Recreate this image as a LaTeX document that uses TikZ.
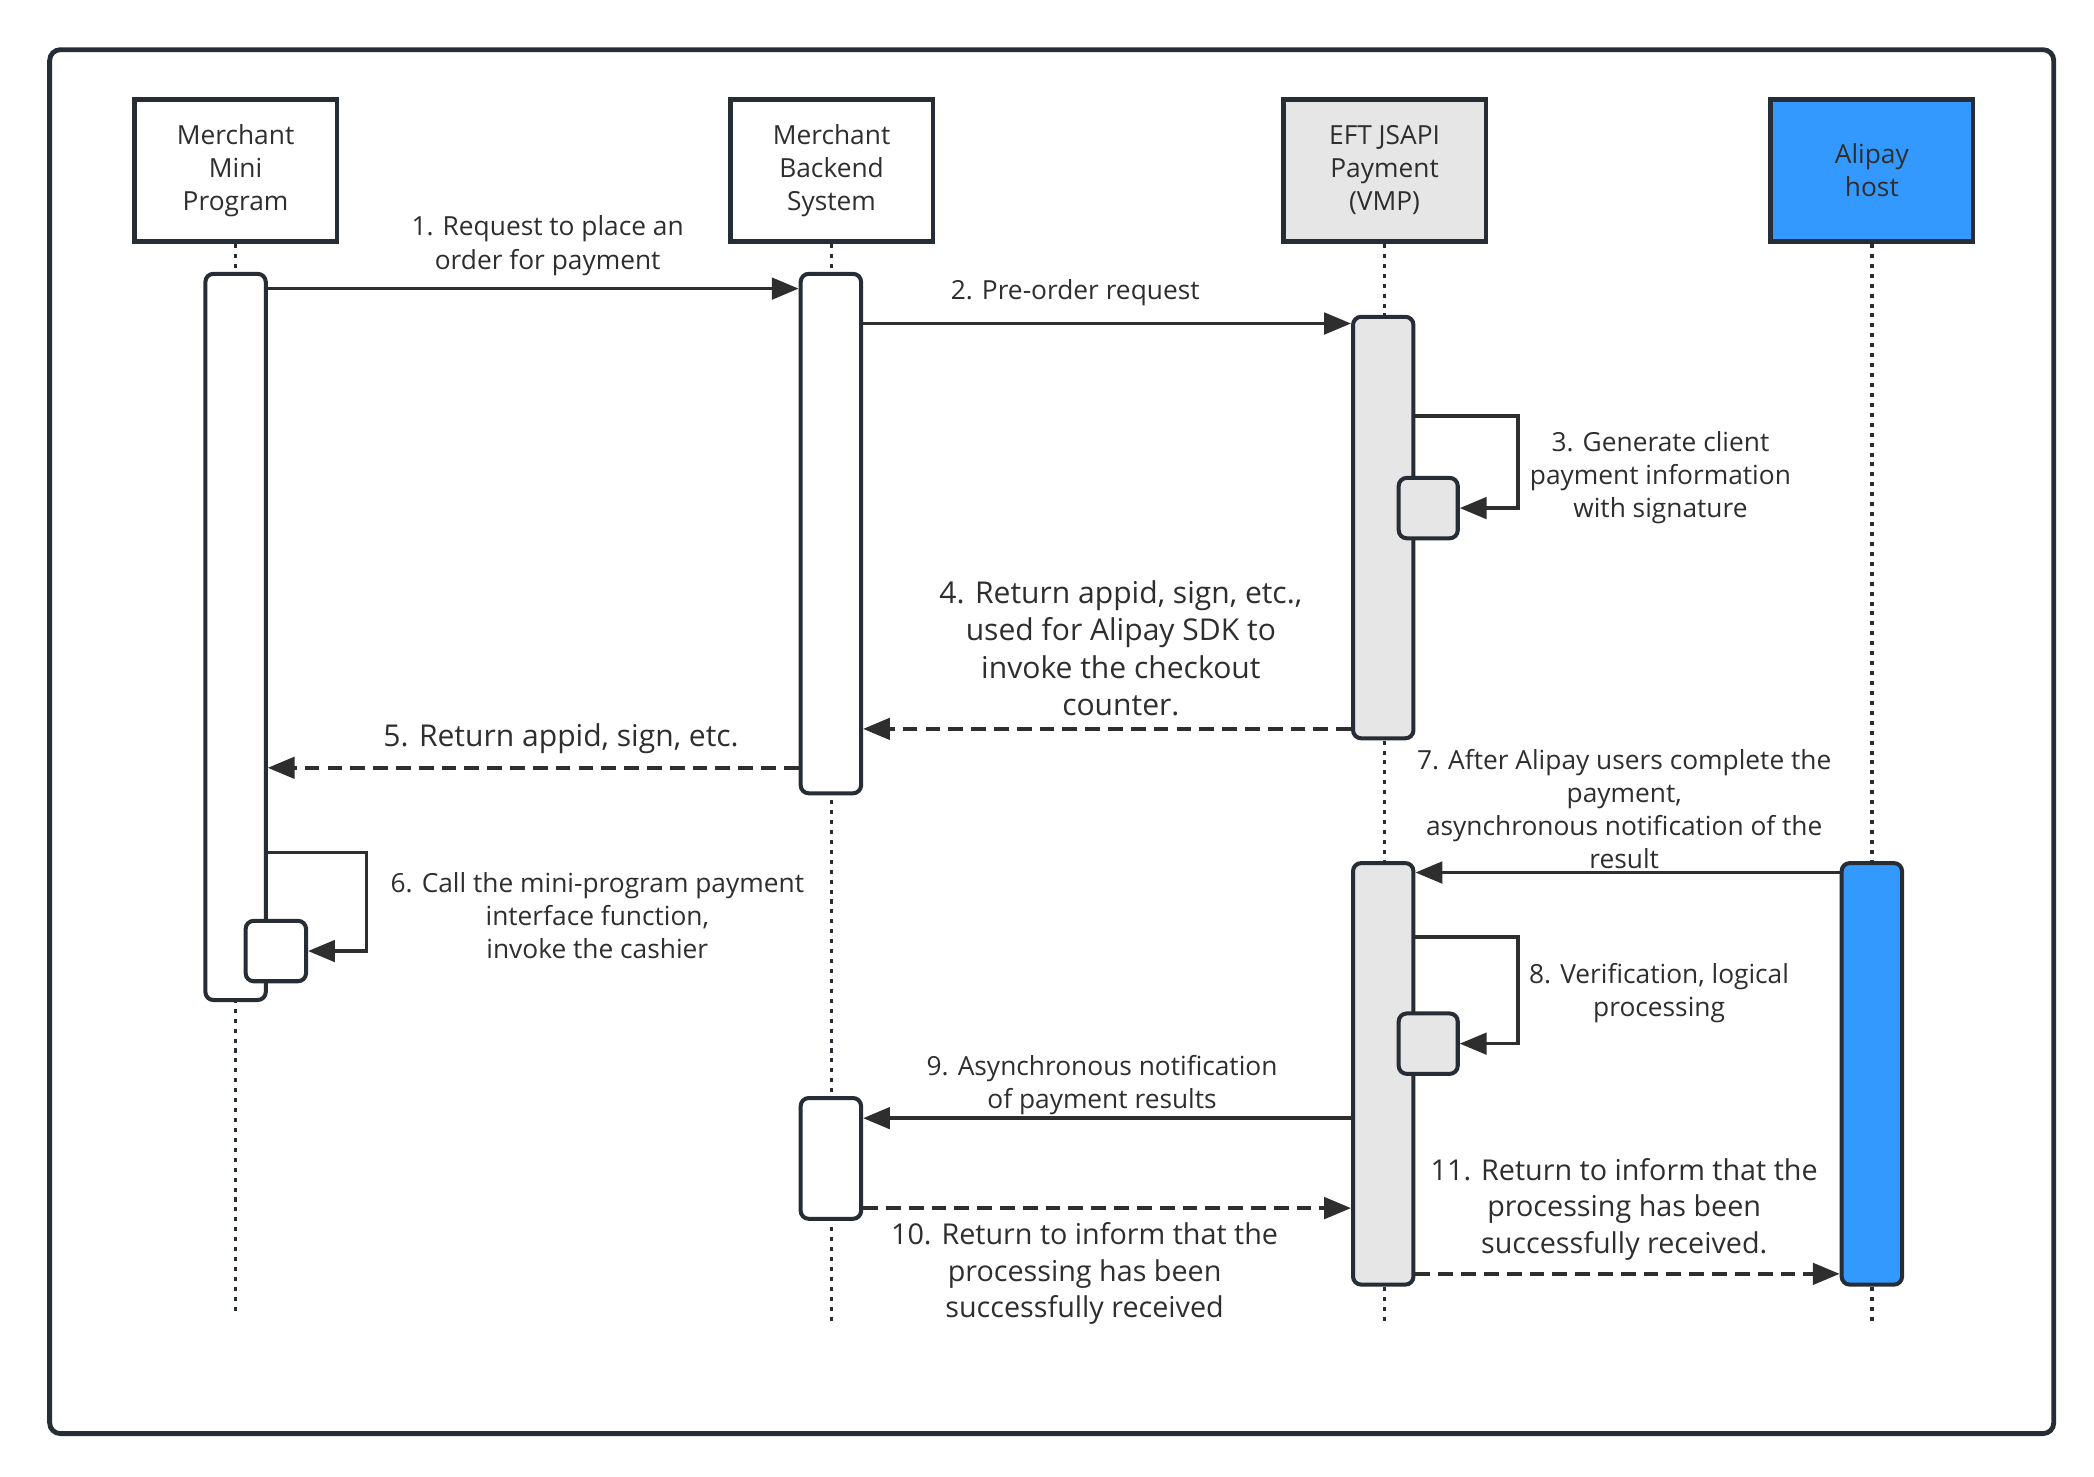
\documentclass[tikz,border=0pt]{standalone}
\usepackage{fontspec}
\setmainfont{Open Sans}
\usepackage{xcolor}
\usetikzlibrary{arrows.meta}

\definecolor{ink}{HTML}{262D34}
\definecolor{txt}{HTML}{2E2E2E}
\definecolor{vmpgray}{HTML}{E6E6E6}
\definecolor{aliblue}{HTML}{3399FF}

\tikzset{
    head/.style={draw=ink, line width=1.7pt, minimum width=75.5pt, minimum height=53pt,
        align=center, text=txt, inner sep=0pt, font=\fontsize{9.8}{12.3}\selectfont},
    bar/.style={draw=ink, line width=1.5pt, rounded corners=3pt, fill=white,
        minimum width=22.5pt, inner sep=0pt},
    life/.style={ink, line width=1.3pt, dash pattern=on 1.5pt off 2.2pt},
    msg/.style={txt, line width=1.3pt, -{Triangle[length=10pt,width=8pt]}},
    ret/.style={msg, dash pattern=on 5.5pt off 3pt},
    lbl/.style={align=center, text=txt, inner sep=0pt, font=\fontsize{9.8}{12.3}\selectfont},
    biglbl/.style={lbl, font=\fontsize{11.2}{14}\selectfont},
    retlbl/.style={lbl, font=\fontsize{10.7}{13.6}\selectfont}
}

\begin{document}
\begin{tikzpicture}[x=0.5pt,y=-0.5pt]
        \useasboundingbox (0,0) rectangle (1560,1100);
        % frame
        \draw[ink, line width=1.8pt, rounded corners=4pt] (37,37) rectangle (1530,1068);

        % participants
        \node[head] (hMP) at (175.5,127) {Merchant\\Mini\\Program};
        \node[head] (hMB) at (619.5,127) {Merchant\\Backend\\System};
        \node[head, fill=vmpgray] (hEFT) at (1031.5,127) {EFT JSAPI\\Payment\\(VMP)};
        \node[head, fill=aliblue] (hAli) at (1394.5,127) {Alipay\\host};

        % lifelines
        \coordinate (eMP) at (175.5,978);
        \coordinate (eMB) at (619.5,984);
        \coordinate (eEFT) at (1031.5,987);
        \coordinate (eAli) at (1394.5,987);
        \draw[life] (hMP) -- (eMP);
        \draw[life] (hMB) -- (eMB);
        \draw[life] (hEFT) -- (eEFT);
        \draw[life] (hAli) -- (eAli);

        % activations
        \node[bar, minimum height=270.5pt] (bMP) at (175.5,474.5) {};
        \node[bar, minimum height=193.5pt] (bMB1) at (619,397.5) {};
        \node[bar, minimum height=157pt, fill=vmpgray] (bEFT1) at (1030.5,393) {};
        \node[bar, minimum height=22.5pt, minimum width=22pt, fill=vmpgray] (sEFT1) at (1064,378.5) {};
        \node[bar, minimum height=22.5pt] (sMP) at (205.5,708.5) {};
        \node[bar, minimum height=45pt] (bMB2) at (619,863) {};
        \node[bar, minimum height=157pt, fill=vmpgray] (bEFT2) at (1030.5,800) {};
        \node[bar, minimum height=22.5pt, minimum width=22pt, fill=vmpgray] (sEFT2) at (1064,777.5) {};
        \node[bar, minimum height=157pt, fill=aliblue] (bAli) at (1394.5,800) {};

        % message heights
        \coordinate (m1) at (0,215);
        \coordinate (m2) at (0,241);
        \coordinate (k3) at (1131,310);
        \coordinate (m4) at (0,543);
        \coordinate (m5) at (0,572);
        \coordinate (k6) at (273,635);
        \coordinate (m7) at (0,650);
        \coordinate (k8) at (1131,698);
        \coordinate (m9) at (0,833);
        \coordinate (m10) at (0,900);
        \coordinate (m11) at (0,949);

        % messages
        \draw[msg] (bMP.east |- m1) -- (bMB1.west |- m1);
        \draw[msg] (bMB1.east |- m2) -- (bEFT1.west |- m2);
        \draw[msg] (bEFT1.east |- k3) -- (k3) |- (sEFT1.east);
        \draw[ret] (bEFT1.west |- m4) -- (bMB1.east |- m4);
        \draw[ret] (bMB1.west |- m5) -- (bMP.east |- m5);
        \draw[msg] (bMP.east |- k6) -- (k6) |- (sMP.east);
        \draw[msg] (bAli.west |- m7) -- (bEFT2.east |- m7);
        \draw[msg] (bEFT2.east |- k8) -- (k8) |- (sEFT2.east);
        \draw[msg] (bEFT2.west |- m9) -- (bMB2.east |- m9);
        \draw[ret] (bMB2.east |- m10) -- (bEFT2.west |- m10);
        \draw[ret] (bEFT2.east |- m11) -- (bAli.west |- m11);

        % labels
        \node[lbl] (t1) at (408,183) {1. Request to place an\\order for payment};
        \node[lbl] (t2) at (801,218) {2. Pre-order request};
        \node[lbl] (t3) at (1237,356) {3. Generate client\\payment information\\with signature};
        \node[biglbl] (t4) at (835,483) {4. Return appid, sign, etc.,\\used for Alipay SDK to\\invoke the checkout\\counter.};
        \node[biglbl] (t5) at (418,550) {5. Return appid, sign, etc.};
        \node[lbl] (t6) at (445,682) {6. Call the mini-program payment\\interface function,\\invoke the cashier};
        \node[lbl] (t7) at (1210,603) {7. After Alipay users complete the\\payment,\\asynchronous notification of the\\result};
        \node[lbl] (t8) at (1236,740) {8. Verification, logical\\processing};
        \node[lbl] (t9) at (821,808) {9. Asynchronous notification\\of payment results};
        \node[retlbl] (t10) at (808,949) {10. Return to inform that the\\processing has been\\successfully received};
        \node[retlbl] (t11) at (1210,901) {11. Return to inform that the\\processing has been\\successfully received.};
    \end{tikzpicture}
\end{document}
